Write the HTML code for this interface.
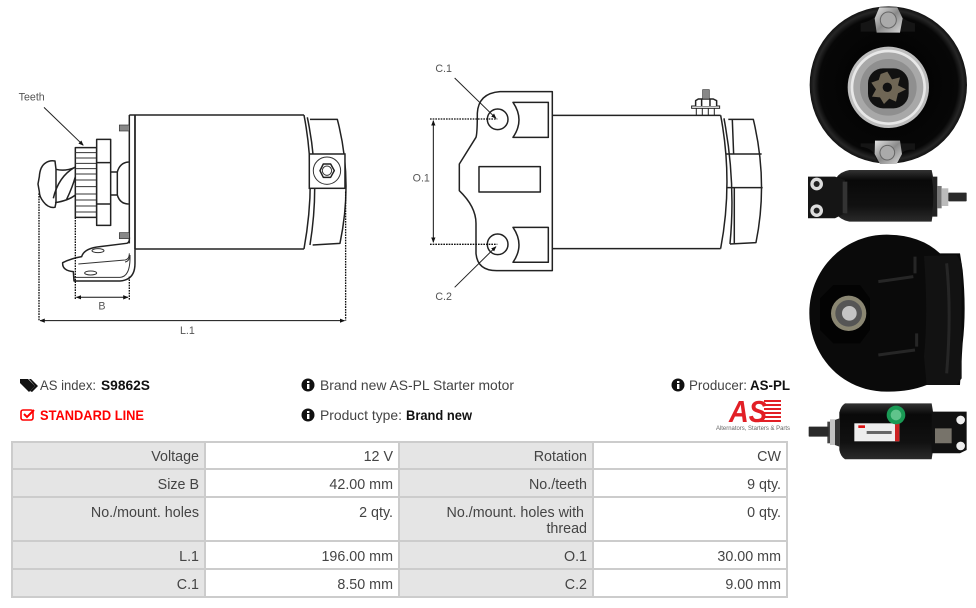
<!DOCTYPE html>
<html><head><meta charset="utf-8"><style>
html,body{margin:0;padding:0;background:#fff}
svg{display:block}
text{font-family:"Liberation Sans",sans-serif}
.t{font-size:14px;fill:#444}
.b{font-size:13.5px;font-weight:bold;fill:#111}
.c{font-size:14.3px;fill:#444;text-anchor:end}
.l{font-size:32px;fill:#555}
.d{fill:none;stroke:#222;stroke-width:4.5;stroke-linejoin:round}
.n{fill:none;stroke:#333;stroke-width:3}
.g{fill:none;stroke:#111;stroke-width:4;stroke-dasharray:5 3}
</style></head><body>
<svg width="976" height="608" viewBox="0 0 976 608" xmlns="http://www.w3.org/2000/svg">
<defs>
<radialGradient id="rim" cx="50%" cy="50%" r="50%"><stop offset="0" stop-color="#000"/><stop offset=".88" stop-color="#070707"/><stop offset=".95" stop-color="#262626"/><stop offset="1" stop-color="#111"/></radialGradient>
<linearGradient id="cyl" x1="0" y1="0" x2="0" y2="1"><stop offset="0" stop-color="#333"/><stop offset=".2" stop-color="#090909"/><stop offset=".7" stop-color="#111"/><stop offset="1" stop-color="#2a2a2a"/></linearGradient>
<linearGradient id="met" x1="0" y1="0" x2="1" y2="1"><stop offset="0" stop-color="#e4e4e4"/><stop offset=".5" stop-color="#8a8a8a"/><stop offset="1" stop-color="#d8d8d8"/></linearGradient>
<marker id="ah" viewBox="0 0 10 10" refX="9" refY="5" markerWidth="16" markerHeight="16" markerUnits="userSpaceOnUse" orient="auto-start-reverse"><path d="M0 1 L10 5 L0 9Z" fill="#111"/></marker>
</defs>

<!-- left drawing -->
<g transform="translate(0,80) scale(.3333)">
<path class="d" d="M388 105H912M405 507H912M388 105V490M405 105V550Q405 600 360 603H222L220 575Q186 572 188 548Q215 535 245 530Q252 505 300 500L380 490Q390 488 388 470"/>
<path class="d" d="M405 105V507"/>
<path class="n" d="M235 552L375 540Q388 538 388 520M375 546Q388 545 390 525Q392 590 360 592H222"/>
<ellipse class="n" cx="294" cy="512" rx="18" ry="6"/><ellipse class="n" cx="272" cy="579" rx="18" ry="6"/>
<path class="d" d="M912 105Q950 300 912 507M922 112Q962 300 930 495M930 118H1012Q1060 300 1020 490L938 495"/>
<rect x="928" y="222" width="107" height="103" fill="#fff" stroke="#222" stroke-width="4.5"/>
<circle class="n" cx="981" cy="272" r="41"/><path class="d" d="M960 272L970 252H992L1003 272L992 292H970Z"/><circle class="n" cx="981" cy="272" r="14"/>
<rect x="358" y="135" width="30" height="18" fill="#888" stroke="#333" stroke-width="2"/><rect x="358" y="458" width="30" height="18" fill="#888" stroke="#333" stroke-width="2"/>
<rect class="d" x="226" y="203" width="64" height="209"/>
<path class="n" d="M226 218H290M226 234H290M226 250H290M226 266H290M226 282H290M226 300H290M226 320H290M226 342H290M226 360H290M226 378H290M226 396H290"/>
<rect class="d" style="fill:#fff" x="290" y="178" width="42" height="258"/><path class="d" d="M290 248H332M290 372H332"/>
<path class="d" d="M332 276H352V345H332M352 276Q360 248 386 246M352 345Q360 372 386 372"/>
<path class="d" d="M168 268Q195 275 226 262M165 368Q205 362 226 345M160 355Q175 290 224 262M200 358Q218 320 226 290"/>
<path class="d" d="M118 290Q120 258 138 248Q150 240 165 243L168 268V368L165 382Q145 385 130 365Q118 350 118 335L114 312Z"/>
<path class="g" d="M226 412V660M388 590V660M117 340V722M1037 335V722"/>
<path d="M229 652H384" stroke="#111" stroke-width="3" marker-start="url(#ah)" marker-end="url(#ah)"/>
<path d="M120 722H1034" stroke="#111" stroke-width="3" marker-start="url(#ah)" marker-end="url(#ah)"/>
<path d="M132 82L250 196" stroke="#222" stroke-width="3" marker-end="url(#ah)"/>
<text class="l" x="56" y="62">Teeth</text><text class="l" x="295" y="688">B</text><text class="l" x="540" y="762">L.1</text>
</g>

<!-- centre drawing -->
<g transform="translate(400,50) scale(.3333)">
<path class="d" d="M457 125H300Q235 130 232 190Q232 250 228 262L178 342V422Q228 470 228 520V610Q232 662 290 662H457Z"/>
<path class="d" d="M339 157H445V262H339Q375 210 339 157ZM339 532H445V637H339Q375 585 339 532Z"/>
<rect class="d" x="237" y="350" width="184" height="76"/>
<circle class="d" cx="293" cy="208" r="31"/><circle class="d" cx="293" cy="583" r="31"/>
<path class="d" d="M457 196H962M457 596H962"/>
<path class="d" d="M962 196Q1000 395 962 596M972 205Q1008 395 990 582M985 208H1060Q1105 395 1068 578L990 582M978 312H1085M982 413H1088M997 208L1001 312M1003 413L1003 580"/>
<path d="M889 172V196M907 172V196M925 172V196M943 172V196" stroke="#222" stroke-width="3"/>
<rect x="875" y="168" width="84" height="7" fill="#fff" stroke="#222" stroke-width="3"/>
<path class="d" d="M887 168V152L895 147H940L950 152V168M905 147V168M930 147V168" style="fill:#fff"/>
<rect x="908" y="119" width="20" height="28" fill="#888" stroke="#333" stroke-width="2"/>
<path class="g" d="M90 207H292M90 583H292"/>
<path d="M100 212V577" stroke="#111" stroke-width="3" marker-start="url(#ah)" marker-end="url(#ah)"/>
<path d="M164 84L288 205" stroke="#222" stroke-width="3" marker-end="url(#ah)"/>
<path d="M164 712L288 590" stroke="#222" stroke-width="3" marker-end="url(#ah)"/>
<text class="l" x="106" y="66">C.1</text><text class="l" x="106" y="750">C.2</text><text class="l" x="38" y="394">O.1</text>
</g>

<!-- photos top -->
<g transform="translate(800,0) scale(.3333)">
<circle cx="265" cy="255" r="236" fill="url(#rim)"/>
<path d="M182 70Q225 60 228 40H300Q305 60 345 70V95H182Z" fill="#151515"/>
<path d="M182 430H345V450Q300 445 300 480H228Q225 445 182 440Z" fill="#151515"/>
<path d="M238 22H292L308 55L300 98H230L224 55Z" fill="url(#met)"/><circle cx="265" cy="60" r="24" fill="#aaa" stroke="#666" stroke-width="3"/>
<path d="M225 422H300L306 462L290 492H240L224 462Z" fill="url(#met)"/><circle cx="262" cy="458" r="22" fill="#aaa" stroke="#666" stroke-width="3"/>
<circle cx="265" cy="262" r="122" fill="#bdbdbd"/><circle cx="265" cy="262" r="113" fill="#e8e8e8"/><circle cx="265" cy="262" r="105" fill="#a8a8a8"/>
<circle cx="265" cy="262" r="85" fill="#8f8f8f"/>
<rect x="204" y="205" width="122" height="120" rx="45" fill="#111"/>
<path d="M262 215L276 238L300 232L294 256L318 268L294 280L288 305L268 296L252 312L240 292L216 290L228 268L214 248L236 240L242 222Z" fill="#6f6655"/>
<circle cx="262" cy="262" r="14" fill="#111"/>
<path d="M148 510H395Q410 570 395 665H148Q120 660 108 640V535Q120 515 148 510Z" fill="url(#cyl)"/>
<path d="M24 530H105L135 540V640L105 655H24Z" fill="#151515"/>
<rect x="128" y="545" width="14" height="95" fill="#333"/>
<circle cx="50" cy="552" r="19" fill="#ddd"/><circle cx="50" cy="552" r="9" fill="#222"/>
<circle cx="50" cy="632" r="19" fill="#ddd"/><circle cx="50" cy="632" r="9" fill="#222"/>
<path d="M395 530Q405 590 395 650H412V530Z" fill="#222"/>
<path d="M412 558H425V625H412Z" fill="#777"/><path d="M425 565H445V618H425Z" fill="#bbb"/>
<rect x="445" y="578" width="55" height="26" rx="2" fill="#2a2a2a"/>
</g>

<!-- photos bottom -->
<g transform="translate(800,230) scale(.3333)">
<path d="M260 14Q360 14 420 70H480L488 120Q500 240 488 340L480 465H380Q330 485 260 485C120 485 28 370 28 250C28 120 130 14 260 14Z" fill="#0a0a0a"/>
<path d="M372 78L470 75L485 100V445L470 465H380L372 380Q385 250 372 78Z" fill="#121212"/>
<path d="M235 155L340 140M235 375L345 360M345 80V130M350 310V350M440 100Q455 250 440 430" stroke="#262626" stroke-width="9" fill="none"/>
<path d="M100 165L60 205V300L100 340H180L210 300V205L180 165Z" fill="#030303"/>
<circle cx="146" cy="250" r="53" fill="#8a8672"/><circle cx="146" cy="250" r="40" fill="#555"/><circle cx="148" cy="250" r="22" fill="#c4c4c4"/>
<path d="M135 520H395Q410 600 395 688H135Q122 680 118 660V548Q122 528 135 520Z" fill="url(#cyl)"/>
<path d="M118 565V650L90 640V575Z" fill="#333"/><path d="M90 568H105V645H90Z" fill="#c2c2c2"/><path d="M82 575H90V640H82Z" fill="#444"/>
<rect x="26" y="590" width="60" height="30" rx="2" fill="#2a2a2a"/>
<rect x="163" y="580" width="135" height="54" fill="#eee"/><rect x="285" y="580" width="13" height="54" fill="#c22"/>
<rect x="175" y="586" width="20" height="8" fill="#d11"/><rect x="200" y="603" width="75" height="9" fill="#666"/>
<circle cx="288" cy="555" r="28" fill="#1a9a55"/><circle cx="288" cy="555" r="16" fill="#5fc48b"/>
<path d="M395 545H500V660L480 670H395Z" fill="#111"/>
<circle cx="482" cy="570" r="13" fill="#eee"/><circle cx="482" cy="648" r="13" fill="#eee"/>
<path d="M405 595H455V640H405Z" fill="#77736a"/>
</g>

<!-- info row -->
<g fill="#111">
<path d="M20 379H28L35 386L29 392L20 383Z"/><path d="M31 379L38 386L32 392L30 391L35 386L29 379Z"/>
<circle cx="308" cy="385" r="6.5"/><circle cx="308" cy="415" r="6.5"/><circle cx="678" cy="385" r="6.5"/>
</g>
<g fill="#fff"><rect x="307" y="384" width="2.4" height="5"/><rect x="307" y="381" width="2.4" height="2"/><rect x="307" y="414" width="2.4" height="5"/><rect x="307" y="411" width="2.4" height="2"/><rect x="677" y="384" width="2.4" height="5"/><rect x="677" y="381" width="2.4" height="2"/></g>
<rect x="21" y="410" width="12" height="10" rx="2" fill="none" stroke="#f00" stroke-width="1.6"/>
<path d="M24 414L27 417L34 410" fill="none" stroke="#f00" stroke-width="2"/>

<text class="t" x="40" y="390" textLength="56" lengthAdjust="spacingAndGlyphs">AS index:</text><text class="b" x="101" y="390" textLength="49" lengthAdjust="spacingAndGlyphs">S9862S</text>
<text x="40" y="420" textLength="104" lengthAdjust="spacingAndGlyphs" style="font-size:14px;font-weight:bold;fill:#f00">STANDARD LINE</text>
<text class="t" x="320" y="390" textLength="194" lengthAdjust="spacingAndGlyphs">Brand new AS-PL Starter motor</text>
<text class="t" x="320" y="420" textLength="82" lengthAdjust="spacingAndGlyphs">Product type:</text><text class="b" x="406" y="420" textLength="66" lengthAdjust="spacingAndGlyphs">Brand new</text>
<text class="t" x="689" y="390" textLength="58" lengthAdjust="spacingAndGlyphs">Producer:</text><text class="b" x="750" y="390" textLength="40" lengthAdjust="spacingAndGlyphs">AS-PL</text>

<!-- logo -->
<text x="729" y="422" textLength="38" lengthAdjust="spacingAndGlyphs" style="font-size:31px;font-weight:bold;font-style:italic;fill:#e21f26">AS</text>
<path d="M764 400H781V402H764ZM764 404H781V406H764ZM764 408H781V410H764ZM762 412H781V414H762ZM762 416H781V418H762ZM760 420H781V422H760Z" fill="#e21f26"/>
<text x="716" y="430" textLength="74" lengthAdjust="spacingAndGlyphs" style="font-size:6.5px;fill:#666">Alternators, Starters &amp; Parts</text>

<!-- table -->
<rect x="12" y="442" width="775" height="155" fill="#fff"/>
<rect x="12" y="442" width="192" height="155" fill="#e5e5e5"/>
<rect x="399" y="442" width="193" height="155" fill="#e5e5e5"/>
<g stroke="#ccc" stroke-width="2" fill="none">
<rect x="12" y="442" width="775" height="155"/>
<path d="M12 469H787M12 497H787M12 541H787M12 569H787M205 442V597M399 442V597M593 442V597"/>
</g>
<g>
<text class="c" x="199" y="461">Voltage</text><text class="c" x="393" y="461">12 V</text><text class="c" x="587" y="461">Rotation</text><text class="c" x="781" y="461">CW</text>
<text class="c" x="199" y="489">Size B</text><text class="c" x="393" y="489">42.00 mm</text><text class="c" x="587" y="489">No./teeth</text><text class="c" x="781" y="489">9 qty.</text>
<text class="c" x="199" y="517">No./mount. holes</text><text class="c" x="393" y="517">2 qty.</text><text class="c" x="584" y="517">No./mount. holes with</text><text class="c" x="587" y="533">thread</text><text class="c" x="781" y="517">0 qty.</text>
<text class="c" x="199" y="561">L.1</text><text class="c" x="393" y="561">196.00 mm</text><text class="c" x="587" y="561">O.1</text><text class="c" x="781" y="561">30.00 mm</text>
<text class="c" x="199" y="589">C.1</text><text class="c" x="393" y="589">8.50 mm</text><text class="c" x="587" y="589">C.2</text><text class="c" x="781" y="589">9.00 mm</text>
</g>
</svg>
</body></html>
